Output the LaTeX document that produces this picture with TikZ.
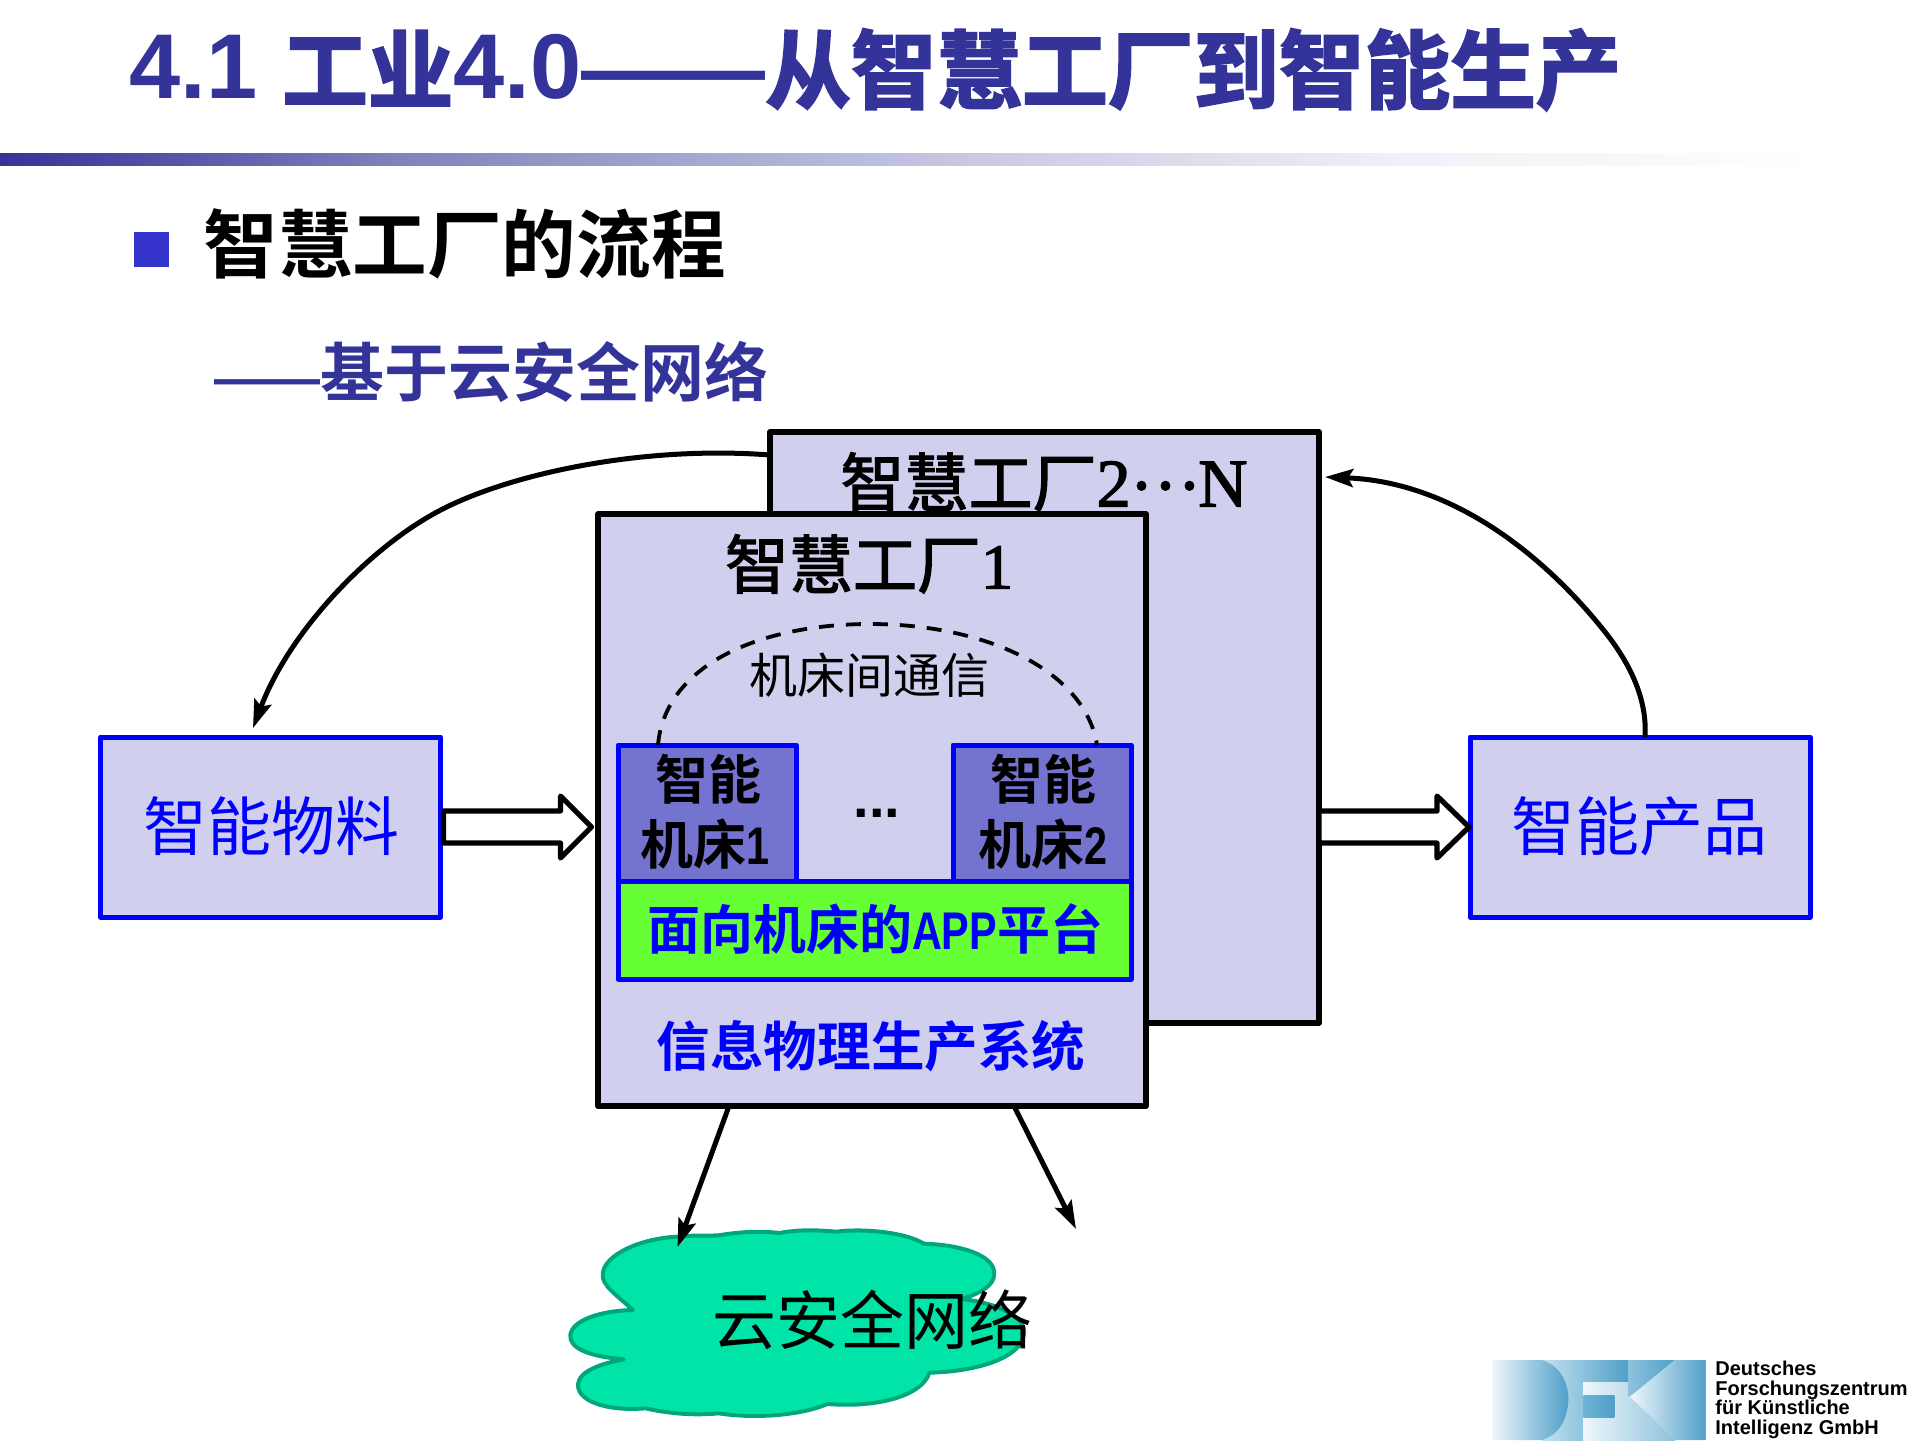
\documentclass[tikz,border=0pt]{standalone}
\usepackage{fontspec}
\usetikzlibrary{arrows.meta,calc}
\setmainfont{Liberation Sans}
\newfontfamily\cjk{Noto Sans CJK SC}[BoldFont={* Bold}]
\newfontfamily\cjkh{Noto Sans CJK SC}[UprightFont={* Bold},FakeBold=2.5]
\newfontfamily\cjkm{Noto Sans CJK SC}[FakeBold=2]
\newfontfamily\hw{Liberation Sans}[FakeStretch=0.78]
\newfontfamily\arialf{Liberation Sans}
\newfontfamily\timesf{Liberation Serif}[FakeBold=2]
\definecolor{titleblue}{HTML}{333399}
\definecolor{bulletblue}{HTML}{3333CC}
\definecolor{panel}{HTML}{D0D0EE}
\definecolor{machine}{HTML}{7474D0}
\definecolor{appgreen}{HTML}{66FF33}
\definecolor{cloudfill}{HTML}{00E4A8}
\definecolor{cloudline}{HTML}{00A67C}
\definecolor{barA}{HTML}{333399}
\definecolor{barB}{HTML}{8282BC}
\definecolor{barC}{HTML}{C8C8E3}
\definecolor{barD}{HTML}{F0F0F7}
\definecolor{logoA}{HTML}{EEF7FB}
\definecolor{logoB}{HTML}{4F9FC8}
\definecolor{logoC}{HTML}{C5E2F0}
\definecolor{logoD}{HTML}{8EC2DD}
\definecolor{logoE}{HTML}{6FB3D5}
\pgfdeclarehorizontalshading{barshade}{100bp}{color(0bp)=(barA); color(25bp)=(barA); color(36bp)=(barB); color(51.5bp)=(barC); color(63.5bp)=(barD); color(75bp)=(white); color(100bp)=(white)}
\newcommand{\fs}[1]{\fontsize{#1}{#1}\selectfont}
\tikzset{
  factory/.style={draw=black,line width=2.7pt,fill=panel,anchor=north west,inner sep=0pt,outer sep=0pt,line join=round},
  bluebox/.style={draw=blue,line width=2.5pt,fill=panel,anchor=north west,inner sep=0pt,outer sep=0pt,line join=round,text=blue},
  machinebox/.style={draw=blue,line width=2.5pt,fill=machine,anchor=north west,inner sep=0pt,outer sep=0pt,line join=round},
  conn/.style={draw=black,line width=2.5pt,-{Stealth[length=14pt,width=9pt,inset=2.5pt]}},
  blockarrow/.style={draw=black,fill=white,line width=2.6pt,line join=round},
  lbl/.style={inner sep=0pt,anchor=center},
}
\begin{document}
\begin{tikzpicture}[x=0.5pt,y=-0.5pt]
\useasboundingbox (0,0) rectangle (1920,1440);
% header
\node[lbl,anchor=base west,text=titleblue] (title) at (129,102)
  {\raisebox{2pt}{\arialf\bfseries\fs{46}4.1}\hspace{12.5pt}\cjkh\fs{42.8}工业\raisebox{2pt}{\arialf\bfseries\fs{46}4.0}\raisebox{1pt}{\arialf\bfseries\fs{46}——}\cjkh\fs{42.8}从智慧工厂到智能生产};
\shade[shading=barshade] (0,153) rectangle (1817,165);
\fill[bulletblue] (134,232) rectangle (168.5,267);
\node[lbl,anchor=base west] (head) at (203,272) {\cjk\bfseries\fs{37.3}智慧工厂的流程};
\node[lbl,anchor=base west,text=titleblue] (sub) at (214,396)
  {\arialf\bfseries\fs{26.5}——\cjk\bfseries\fs{32}基于云安全网络};
% factories
\node[factory,minimum width=549*0.5pt,minimum height=591*0.5pt] (f2) at (770,432) {};
\node[lbl] (f2t) at (1044,482) {\cjkm\fs{32}智慧工厂\timesf\fs{34}2\cjkm\fs{32}\raisebox{8.5pt}{…}\timesf\fs{34}N};
\node[factory,minimum width=548*0.5pt,minimum height=592*0.5pt] (f1) at (598,514) {};
\node[lbl] (f1t) at (869,564) {\cjkm\fs{32}智慧工厂\timesf 1};
% side boxes
\node[bluebox,minimum width=340*0.5pt,minimum height=180*0.5pt] (mat) at (100.5,737) {};
\node[lbl,text=blue] (matt) at (271,826) {\cjk\fs{32}智能物料};
\node[bluebox,minimum width=340*0.5pt,minimum height=180*0.5pt] (prod) at (1470,737) {};
\node[lbl,text=blue] (prodt) at (1639,826) {\cjk\fs{32}智能产品};
% machines
\node[machinebox,minimum width=178*0.5pt,minimum height=137*0.5pt] (m1) at (618,745) {};
\node[machinebox,minimum width=178*0.5pt,minimum height=137*0.5pt] (m2) at (953,745) {};
\node[lbl] (m1a) at (708,779) {\cjk\bfseries\fs{26.5}智能};
\node[lbl] (m1b) at (705,844) {\cjk\bfseries\fs{26.5}机床\hw\bfseries 1};
\node[lbl] (m2a) at (1043,779) {\cjk\bfseries\fs{26.5}智能};
\node[lbl] (m2b) at (1043,844) {\cjk\bfseries\fs{26.5}机床\hw\bfseries 2};
\node[lbl] (dots) at (877,813) {\arialf\bfseries\fs{28}...};
\node[draw=blue,line width=2.5pt,fill=appgreen,anchor=north west,inner sep=0pt,outer sep=0pt,line join=round,minimum width=513*0.5pt,minimum height=98*0.5pt] (app) at (618,881) {};
\node[lbl,text=blue] (appt) at (875,929) {\cjk\bfseries\fs{26.5}面向机床的\hw\bfseries APP\cjk\bfseries 平台};
\node[lbl,text=blue] (cps) at (871,1046) {\cjk\bfseries\fs{26.8}信息物理生产系统};
% dashed arc
\coordinate (d1) at (658,750);
\coordinate (d2) at (1097,745);
\draw[line width=1.9pt,dash pattern=on 7.5pt off 6pt] (m1.north -| d1) .. controls (665,665) and (760,624) .. (870,624) .. controls (985,624) and (1085,670) .. (m2.north -| d2);
\node[lbl] (comm) at (869,675) {\cjk\fs{24}机床间通信};
% block arrows
\draw[blockarrow] ($(mat.east)+(3,-16)$) -- ++(117,0) -- ++(0,-15) -- ++(31,31) -- ++(-31,31) -- ++(0,-15) -- ++(-117,0) -- cycle;
\draw[blockarrow] ($(f2.east |- mat.east)+(0,-16)$) -- ++(118,0) -- ++(0,-15) -- ++(32,31) -- ++(-32,31) -- ++(0,-15) -- ++(-118,0) -- cycle;
% curved connectors
\coordinate (c1) at (768,455);
\coordinate (c2) at (253,728);
\coordinate (c3) at (1645,737);
\coordinate (c4) at (1325,477);
\draw[conn] (f2.west |- c1) .. controls (640,445) and (505,475) .. (437,512) .. controls (370,548) and (290,630) .. (c2);
\draw[conn] (prod.north -| c3) .. controls (1648,690) and (1620,650) .. (1601,627) .. controls (1545,558) and (1455,482) .. (c4);
\coordinate (c5) at (729,1106);
\coordinate (c6) at (677.5,1247);
\coordinate (c7) at (1014,1106);
\coordinate (c8) at (1076,1229);
% cloud
\begin{scope}[shift={(540,1100)},x=0.5pt/2.8,y=-0.5pt/3]
\draw[fill=cloudfill,draw=cloudline,line width=2pt,line join=round]
 (385,410) .. controls (425,405) and (460,408) .. (500,406)
 .. controls (555,396) and (615,392) .. (670,399)
 .. controls (725,388) and (780,390) .. (830,395)
 .. controls (900,385) and (1020,395) .. (1075,431)
 .. controls (1190,435) and (1275,470) .. (1272,522)
 .. controls (1272,555) and (1235,580) .. (1180,597)
 .. controls (1290,610) and (1365,655) .. (1355,705)
 .. controls (1345,775) and (1220,815) .. (1090,818)
 .. controls (1075,880) and (960,925) .. (805,912)
 .. controls (720,950) and (590,955) .. (500,940)
 .. controls (420,948) and (350,938) .. (295,925)
 .. controls (180,935) and (100,900) .. (107,850)
 .. controls (110,815) and (170,790) .. (235,778)
 .. controls (140,770) and (80,745) .. (85,705)
 .. controls (90,660) and (170,632) .. (260,630)
 .. controls (215,585) and (170,555) .. (176,520)
 .. controls (180,465) and (280,415) .. (385,410) -- cycle;
\end{scope}
\node[lbl] (cloudt) at (872,1320) {\cjk\fs{32}云安全网络};
\draw[conn] (f1.south -| c5) -- (c6);
\draw[conn] (f1.south -| c7) -- (c8);
% logo
\begin{scope}[shift={(1485,1355)},x=0.5pt/3,y=-0.5pt/3]
\shade[left color=logoC,right color=logoD] (170,15) rectangle (295,255);
\shade[left color=logoA,right color=logoD] (295,80) rectangle (570,255);
\fill[logoD] (570,15) rectangle (662,255);
\shade[left color=logoC,right color=logoB] (170,15) rectangle (430,80);
\shade[left color=logoA,right color=logoB] (22,15) -- (170,15) .. controls (225,30) and (250,85) .. (250,130) .. controls (250,185) and (225,240) .. (170,255) -- (22,255) -- cycle;
\shade[left color=logoE,right color=logoB] (295,120) rectangle (388,188);
\shade[left color=logoD,right color=logoB] (430,15) -- (570,15) -- (435,125) -- (430,125) -- cycle;
\shade[left color=logoA,right color=logoB] (435,125) -- (570,15) -- (662,15) -- (662,255) -- (570,255) -- cycle;
\end{scope}
\node[lbl,anchor=base west] (dfki1) at (1715,1375) {\arialf\bfseries\fs{10}Deutsches};
\node[lbl,anchor=base west] (dfki2) at (1715,1395) {\arialf\bfseries\fs{10}Forschungszentrum};
\node[lbl,anchor=base west] (dfki3) at (1715,1414) {\arialf\bfseries\fs{10}für Künstliche};
\node[lbl,anchor=base west] (dfki4) at (1715,1434) {\arialf\bfseries\fs{10}Intelligenz GmbH};
\end{tikzpicture}
\end{document}
